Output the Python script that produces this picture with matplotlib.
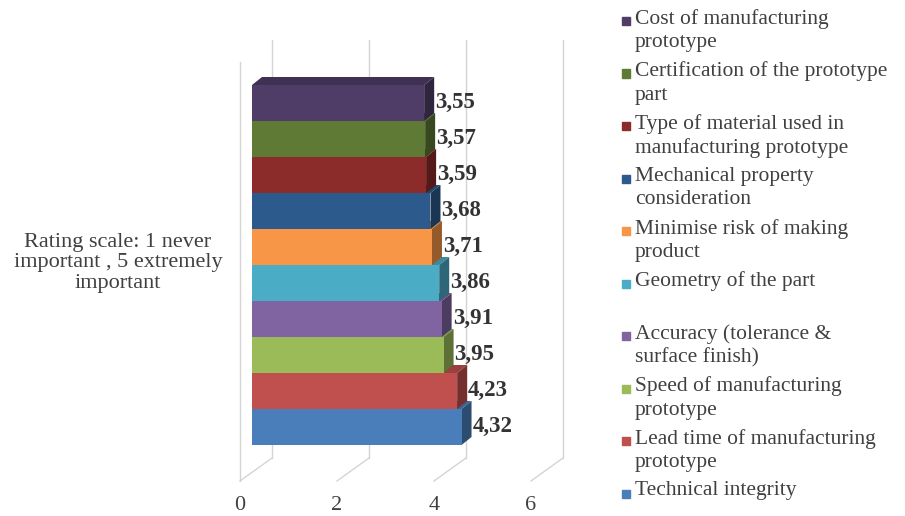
import matplotlib.pyplot as plt
from matplotlib.colors import to_rgb
import numpy as np

# series, bottom to top (Excel draws series 1 at the bottom)
factors = ["Technical integrity",
           "Lead time of manufacturing\nprototype",
           "Speed of manufacturing\nprototype",
           "Accuracy (tolerance &\nsurface finish)",
           "Geometry of the part\n ",
           "Minimise risk of making\nproduct",
           "Mechanical property\nconsideration",
           "Type of material used in\nmanufacturing prototype",
           "Certification of the prototype\npart",
           "Cost of manufacturing\nprototype"]
ratings = [4.32, 4.23, 3.95, 3.91, 3.86, 3.71, 3.68, 3.59, 3.57, 3.55]
colors = ["#4A7EBB", "#C0504D", "#9BBB59", "#8064A2", "#4BACC6",
          "#F79646", "#2C5A8C", "#8C2C2A", "#5F7A34", "#4F3D68"]
category = "Rating scale: 1 never\nimportant , 5 extremely\nimportant"
xticks = [0, 2, 4, 6]

plt.rcParams['font.family'] = ['Liberation Serif', 'DejaVu Serif']
txt_col = "#404040"
grid_col = "#D4D4D4"

W, H = 905, 516
fig = plt.figure(figsize=(W / 100, H / 100), dpi=100)

# axes box in pixels: x 200..580, y 40..482
px_unit = 48.5   # pixels per rating unit
py_unit = 36.0   # pixels per bar
ax = fig.add_axes([200 / W, (H - 482) / H, 380 / W, 442 / H])
ax.set_xlim((200 - 240) / px_unit, (580 - 240) / px_unit)
ax.set_ylim((427 - 482) / py_unit, (427 - 40) / py_unit)
ax.axis('off')

# 3d offsets (data units)
bar_x0 = 12 / px_unit           # bar front face shift from the floor front
dx, dy = 10 / px_unit, 8 / py_unit   # bar depth
wx = 32 / px_unit               # floor depth
floor_front = (427 - 481) / py_unit
floor_back = (427 - 458) / py_unit
top = (427 - 40) / py_unit

# walls / gridlines
ax.plot([0, 0], [floor_front, (427 - 62) / py_unit], color=grid_col, lw=1, zorder=0)
for v in xticks:
    ax.plot([v, v + wx], [floor_front, floor_back], color=grid_col, lw=1, zorder=0)
    ax.plot([v + wx, v + wx], [floor_back, top], color=grid_col, lw=1, zorder=0)
    ax.text(v, floor_front - 25 / py_unit, str(v), ha='center', va='center',
            fontsize=16, color=txt_col)


def shade(c, f):
    return tuple(np.clip(np.array(to_rgb(c)) * f, 0, 1))


for i, (val, col) in enumerate(zip(ratings, colors)):
    x1 = bar_x0 + val
    y0, y1 = i - 0.5, i + 0.5
    # top face
    ax.fill([bar_x0, x1, x1 + dx, bar_x0 + dx], [y1, y1, y1 + dy, y1 + dy],
            color=shade(col, 0.8), lw=0, zorder=2 + i)
    # side face
    ax.fill([x1, x1 + dx, x1 + dx, x1], [y0, y0 + dy, y1 + dy, y1],
            color=shade(col, 0.6), lw=0, zorder=2 + i)
    # front face
    ax.barh(i, val, left=bar_x0, height=1.0, color=col, lw=0, zorder=2 + i)
    ax.text(x1 + dx + 1 / px_unit, i + 0.02, f"{val:.2f}".replace('.', ','),
            ha='left', va='center', fontsize=16.5, fontweight='bold',
            color="#333333", zorder=20)

# category label
fig.text(118 / W, 1 - 263 / H, category, ha='center', va='center',
         multialignment='center', fontsize=16, color=txt_col, linespacing=1.1)

# legend, top to bottom
y = 9
for lab, col in zip(factors[::-1], colors[::-1]):
    fig.patches.append(plt.Rectangle((622 / W, 1 - (y + 16) / H), 8 / W, 8 / H,
                                     transform=fig.transFigure, color=col))
    fig.text(635 / W, 1 - y / H, lab, ha='left', va='top', fontsize=15.5,
             color=txt_col, linespacing=1.3)
    y += 52.5

fig.savefig("out.png", dpi=100)
